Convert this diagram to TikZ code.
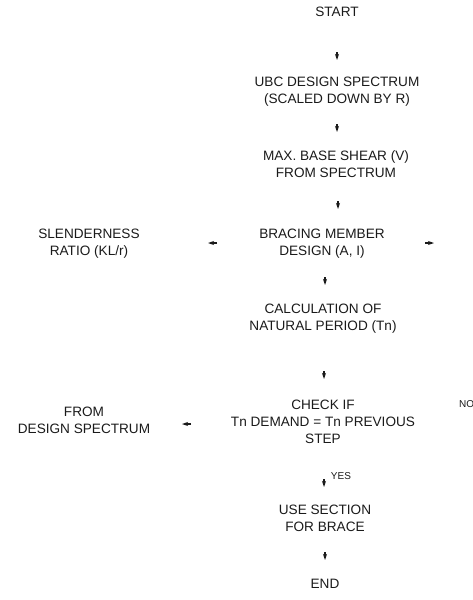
\documentclass[tikz,border=0pt]{standalone}
\usepackage{fontspec}
\setmainfont{Liberation Sans}
\usetikzlibrary{arrows.meta,calc}
\definecolor{FlowInk}{HTML}{1A1A1A}

\begin{document}
\begin{tikzpicture}[x=1pt,y=-1pt,>={Stealth[length=6pt,width=4pt]},
  stage/.style={align=center,font=\fontsize{13.6}{17}\selectfont,text=FlowInk,inner sep=0pt},
  flag/.style={font=\fontsize{10}{12}\selectfont,text=FlowInk,inner sep=0pt},
  tick/.style={->,line width=1.5pt,FlowInk}]
  \useasboundingbox (0,0) rectangle (473,600);
  \node[stage] (start) at (337,12) {START};
  \node[stage] (ubc) at (337,92) {UBC DESIGN SPECTRUM\\(SCALED DOWN BY R)};
  \node[stage] (shear) at (336,164) {MAX. BASE SHEAR (V)\\FROM SPECTRUM};
  \node[stage] (bracing) at (322,244) {BRACING MEMBER\\DESIGN (A, I)};
  \node[stage] (slender) at (89,244) {SLENDERNESS\\RATIO (KL/r)};
  \node[stage] (calc) at (323,319) {CALCULATION OF\\NATURAL PERIOD (Tn)};
  \node[stage] (check) at (323,422) {CHECK IF\\Tn DEMAND = Tn PREVIOUS\\STEP};
  \node[stage] (from) at (84,420) {FROM\\DESIGN SPECTRUM};
  \node[stage] (use) at (325,518) {USE SECTION\\FOR BRACE};
  \node[stage] (finish) at (325,584) {END};
  \node[flag,anchor=west] (no) at (459,404) {NO};
  \node[flag] (yes) at (341,476) {YES};
  % only the arrow heads are left of the connectors
  \draw[tick] ($(start)+(0,40)$) -- ++(0,8);
  \draw[tick] ($(ubc)+(0,32)$) -- ++(0,8);
  \draw[tick] ($(shear)+(2,37)$) -- ++(0,8);
  \draw[tick] ($(bracing)+(-105,-1)$) -- ++(-9,0);
  \draw[tick] ($(bracing)+(103,-1)$) -- ++(9,0);
  \draw[tick] ($(bracing)+(3,33)$) -- ++(0,8);
  \draw[tick] ($(calc)+(1,52)$) -- ++(0,8);
  \draw[tick] ($(check)+(-132,2)$) -- ++(-9,0);
  \draw[tick] ($(use)+(-1,-39)$) -- ++(0,8);
  \draw[tick] ($(use)+(0,34)$) -- ++(0,8);
\end{tikzpicture}
\end{document}
